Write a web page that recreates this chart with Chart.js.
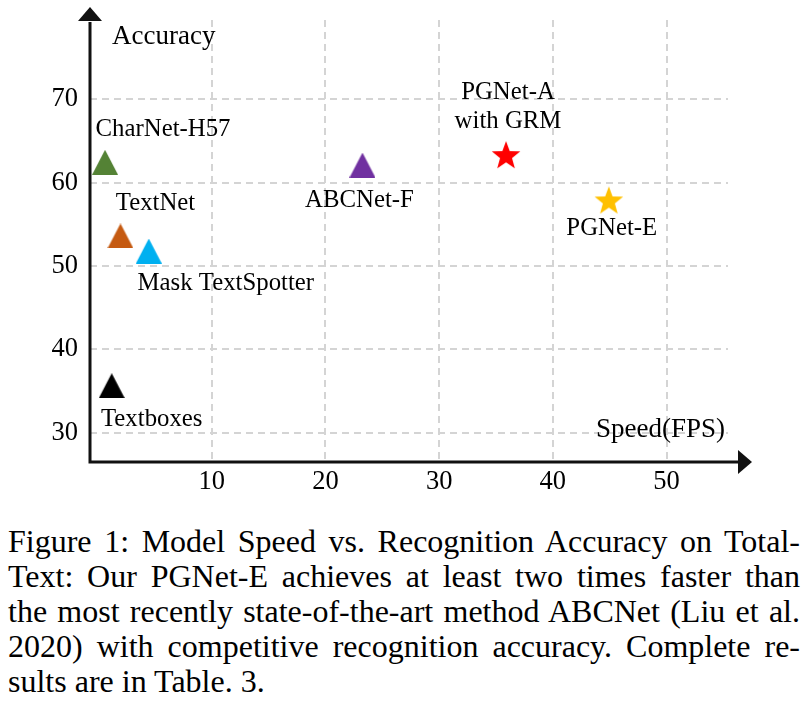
<!DOCTYPE html>
<html><head><meta charset="utf-8">
<script src="https://cdn.jsdelivr.net/npm/chart.js@4.4.1/dist/chart.umd.min.js"></script>
<style>
html,body{margin:0;padding:0;background:#fff;width:809px;height:707px;overflow:hidden;}
#wrap{position:absolute;left:0;top:0;width:809px;height:510px;}
#cap{position:absolute;left:8px;top:524px;width:792px;font-family:"Liberation Serif","Times New Roman",serif;font-size:32px;line-height:35px;color:#000;}
#cap div{text-align:justify;text-align-last:justify;}
#cap div.last{text-align:left;text-align-last:left;}
</style></head>
<body>
<div id="wrap"><canvas id="c" width="809" height="510"></canvas></div>
<div id="cap">
<div>Figure 1: Model Speed vs. Recognition Accuracy on Total-</div>
<div>Text: Our PGNet-E achieves at least two times faster than</div>
<div>the most recently state-of-the-art method ABCNet (Liu et al.</div>
<div>2020) with competitive recognition accuracy. Complete re-</div>
<div class="last">sults are in Table. 3.</div>
</div>
<script>
// ---- data ----
const models = ["CharNet-H57", "TextNet", "Mask TextSpotter", "Textboxes", "ABCNet-F", "PGNet-A\nwith GRM", "PGNet-E"];
const speedFPS = [0.62, 1.98, 4.47, 1.21, 23.26, 35.88, 44.92];
const accuracy = [62.44, 53.6, 51.8, 35.65, 62.1, 63.18, 57.75];
const xTicks = [10, 20, 30, 40, 50];
const yTicks = [30, 40, 50, 60, 70];
const xAxisTitle = "Speed(FPS)";
const yAxisTitle = "Accuracy";

// ---- styles ----
const markerShapes = ["triangle", "triangle", "triangle", "triangle", "triangle", "star", "star"];
const markerColors = ["#548235", "#C55A11", "#00B0F0", "#000000", "#7030A0", "#FF0000", "#FFC000"];
const labelOffsets = [[58, -33], [35, -33], [77, 32], [40, 34], [-3, 35], [2, -64], [3, 27]];
const SERIF = '"Liberation Serif", "Times New Roman", serif';

function makeTriangle(color) {
  const w = 26, h = 25;
  const c = document.createElement('canvas');
  c.width = w; c.height = h;
  const g = c.getContext('2d');
  g.fillStyle = color;
  g.beginPath();
  g.moveTo(w / 2, 0); g.lineTo(w, h); g.lineTo(0, h); g.closePath();
  g.fill();
  return c;
}
function makeStar(color) {
  const R = 15, r = 6.3, s = 2 * R + 2;
  const c = document.createElement('canvas');
  c.width = s; c.height = s;
  const g = c.getContext('2d');
  g.fillStyle = color;
  g.beginPath();
  for (let k = 0; k < 10; k++) {
    const rad = (k % 2 === 0) ? R : r;
    const a = -Math.PI / 2 + k * Math.PI / 5;
    const px = s / 2 + rad * Math.cos(a), py = s / 2 + rad * Math.sin(a);
    if (k === 0) g.moveTo(px, py); else g.lineTo(px, py);
  }
  g.closePath();
  g.fill();
  return c;
}
const markerImages = markerShapes.map((s, i) => s === 'star' ? makeStar(markerColors[i]) : makeTriangle(markerColors[i]));

const decorPlugin = {
  id: 'decor',
  afterDatasetsDraw(chart) {
    const ctx = chart.ctx;
    const area = chart.chartArea;
    const xs = chart.scales.x, ys = chart.scales.y;
    ctx.save();
    // point labels
    ctx.fillStyle = '#000';
    ctx.font = '24.8px ' + SERIF;
    ctx.textAlign = 'center';
    ctx.textBaseline = 'middle';
    models.forEach((m, i) => {
      const px = xs.getPixelForValue(speedFPS[i]);
      const py = ys.getPixelForValue(accuracy[i]);
      const lines = m.split('\n');
      lines.forEach((ln, j) => {
        ctx.fillText(ln, px + labelOffsets[i][0], py + labelOffsets[i][1] + j * 29.4);
      });
    });
    // axis titles
    ctx.font = '27px ' + SERIF;
    ctx.textAlign = 'left';
    ctx.fillText(yAxisTitle, area.left + 22, area.top + 17);
    ctx.textAlign = 'right';
    ctx.fillText(xAxisTitle, area.right - 3, area.bottom - 32);
    // axes with arrows
    ctx.strokeStyle = '#111';
    ctx.fillStyle = '#111';
    ctx.lineWidth = 3;
    ctx.beginPath();
    ctx.moveTo(area.left, area.bottom + 1.5);
    ctx.lineTo(area.left, area.top + 2);
    ctx.moveTo(area.left - 1.5, area.bottom);
    ctx.lineTo(area.right + 12, area.bottom);
    ctx.stroke();
    ctx.beginPath();
    ctx.moveTo(area.left, area.top - 13);
    ctx.lineTo(area.left + 12, area.top + 1);
    ctx.lineTo(area.left - 12, area.top + 1);
    ctx.closePath();
    ctx.fill();
    ctx.beginPath();
    ctx.moveTo(area.right + 24, area.bottom);
    ctx.lineTo(area.right + 10, area.bottom - 12);
    ctx.lineTo(area.right + 10, area.bottom + 12);
    ctx.closePath();
    ctx.fill();
    ctx.restore();
  }
};

const gridOpts = { color: '#d4d4d4', lineWidth: 2, drawTicks: false };
const tickFont = { family: SERIF, size: 26.5 };

new Chart(document.getElementById('c'), {
  type: 'scatter',
  data: {
    datasets: [{
      data: speedFPS.map((x, i) => ({ x: x, y: accuracy[i] })),
      pointStyle: markerImages,
      pointRadius: 14,
      pointHoverRadius: 14,
      backgroundColor: markerColors,
      borderWidth: 0
    }]
  },
  options: {
    responsive: false,
    animation: false,
    events: [],
    layout: { padding: { top: 20, right: 81, left: 0, bottom: 0 } },
    plugins: { legend: { display: false }, tooltip: { enabled: false } },
    scales: {
      x: {
        type: 'linear', min: -0.7, max: 55.4,
        afterBuildTicks: s => { s.ticks = xTicks.map(v => ({ value: v })); },
        afterFit: s => { s.height = 48; s.paddingLeft = 0; s.paddingRight = 0; },
        grid: gridOpts,
        border: { display: false, dash: [7, 5] },
        ticks: { font: tickFont, color: '#000', padding: 4, maxRotation: 0, autoSkip: false }
      },
      y: {
        type: 'linear', min: 26.5, max: 79.5,
        afterBuildTicks: s => { s.ticks = yTicks.map(v => ({ value: v })); },
        afterFit: s => { s.width = 90; s.paddingTop = 0; s.paddingBottom = 0; },
        grid: gridOpts,
        border: { display: false, dash: [7, 5] },
        ticks: { font: tickFont, color: '#000', padding: 12, autoSkip: false }
      }
    }
  },
  plugins: [decorPlugin]
});
</script>
</body></html>
